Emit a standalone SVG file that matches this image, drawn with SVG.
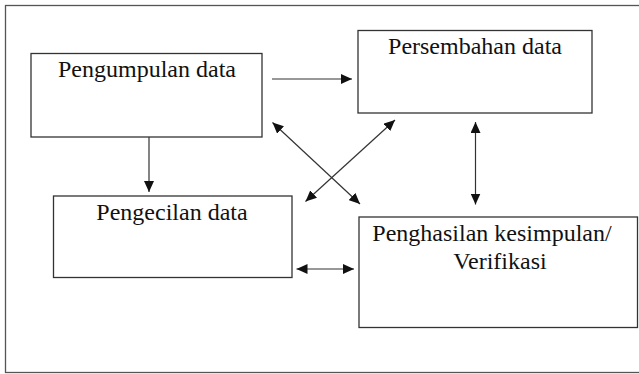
<svg xmlns="http://www.w3.org/2000/svg" width="639" height="374" viewBox="0 0 639 374">
<defs>
<style>
.frame{fill:none;stroke:#555;stroke-width:1.3}
.box{fill:#fff;stroke:#333;stroke-width:1.3}
.lbl{font-size:24px;fill:#111;text-anchor:middle}
.con{fill:none;stroke:#333;stroke-width:1.2}
</style>
<marker id="ah" markerUnits="userSpaceOnUse" markerWidth="12" markerHeight="10" refX="11" refY="5" orient="auto-start-reverse">
<path d="M0,0 L11,5 L0,10 Z" fill="#111"/>
</marker>
</defs>
<rect width="639" height="374" fill="#fff"/>
<rect class="frame" x="5.5" y="5.5" width="640" height="367"/>
<g font-family="'Liberation Serif', 'DejaVu Serif', serif">
<g id="pengumpulan">
<rect class="box" x="31" y="53.5" width="231" height="83.5"/>
<text class="lbl" x="147" y="77">Pengumpulan data</text>
</g>
<g id="persembahan">
<rect class="box" x="358" y="30.5" width="234" height="82.5"/>
<text class="lbl" x="475" y="54">Persembahan data</text>
</g>
<g id="pengecilan">
<rect class="box" x="53.5" y="196" width="238.5" height="81.5"/>
<text class="lbl" x="172" y="220">Pengecilan data</text>
</g>
<g id="penghasilan">
<rect class="box" x="359" y="217" width="278.5" height="110.5"/>
<text class="lbl" x="492" y="241">Penghasilan kesimpulan/</text>
<text class="lbl" x="500" y="269">Verifikasi</text>
</g>
</g>
<g id="connectors">
<line class="con" x1="272" y1="79" x2="352" y2="79" marker-end="url(#ah)"/>
<line class="con" x1="149" y1="137" x2="149" y2="192" marker-end="url(#ah)"/>
<line class="con" x1="272.5" y1="122.5" x2="360" y2="204" marker-start="url(#ah)" marker-end="url(#ah)"/>
<line class="con" x1="395" y1="120" x2="305.5" y2="201.5" marker-start="url(#ah)" marker-end="url(#ah)"/>
<line class="con" x1="475.5" y1="122" x2="475.5" y2="204.5" marker-start="url(#ah)" marker-end="url(#ah)"/>
<line class="con" x1="296.5" y1="269" x2="354" y2="269" marker-start="url(#ah)" marker-end="url(#ah)"/>
</g>
</svg>
